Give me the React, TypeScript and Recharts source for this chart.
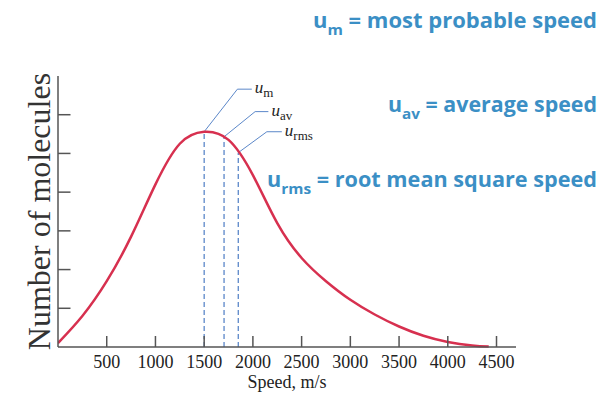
import { LineChart, Line, XAxis, YAxis, ReferenceLine, ReferenceDot } from "recharts";

// speed (m/s) vs relative number of molecules
const SPEEDS = [0, 250, 500, 750, 1000, 1250, 1500, 1750, 2000, 2250, 2500, 2750, 3000, 3250, 3500, 3750, 4000, 4250, 4420];
const MOLECULES = [0.1, 0.8, 1.7, 2.85, 4.2, 5.25, 5.56, 5.35, 4.44, 3.2, 2.3, 1.7, 1.22, 0.84, 0.53, 0.29, 0.13, 0.04, 0.01];

const X_TICKS = [500, 1000, 1500, 2000, 2500, 3000, 3500, 4000, 4500];
const Y_TICKS = [1, 2, 3, 4, 5, 6];

// characteristic speeds and where their callouts sit (data units)
const MARKERS = [
  { sub: "m", speed: 1500, height: 5.56, elbowSpeed: 1841, labelSpeed: 1989, labelHeight: 6.66 },
  { sub: "av", speed: 1704, height: 5.43, elbowSpeed: 2023, labelSpeed: 2159, labelHeight: 6.08 },
  { sub: "rms", speed: 1850, height: 5.02, elbowSpeed: 2143, labelSpeed: 2297, labelHeight: 5.56 },
];

const DEFINITIONS = [
  { sub: "m", text: " = most probable speed" },
  { sub: "av", text: " = average speed" },
  { sub: "rms", text: " = root mean square speed" },
];

const W = 605;
const H = 396;
const RED = "#d7304f";
const BLUE = "#3b8fc5";
const GUIDE = "#5b87c9";
const AXIS = "#555";
const SERIF = "'Liberation Serif', 'Times New Roman', serif";

const DEF_LAYOUT = [
  { x: 313, y: 28, len: 284 },
  { x: 388, y: 112, len: 209 },
  { x: 267, y: 187, len: 330 },
];

const data = SPEEDS.map((s, i) => ({ speed: s, count: MOLECULES[i] }));

function YLabel(props: any) {
  const vb = props.viewBox;
  return (
    <text
      transform={`translate(${vb.x + vb.width - 19}, ${vb.y + vb.height / 2}) rotate(-90)`}
      y={11}
      textAnchor="middle"
      fontFamily={SERIF}
      fontSize={32}
      fill="#333"
    >
      Number of molecules
    </text>
  );
}

export default function App() {
  return (
    <div style={{ position: "absolute", left: 0, top: 0, width: W, height: H, background: "#fff" }}>
      <LineChart width={W} height={H} data={data} margin={{ top: 76, right: 89, left: 0, bottom: 0 }}>
        <XAxis
          dataKey="speed"
          type="number"
          domain={[0, 4700]}
          ticks={X_TICKS}
          allowDataOverflow
          height={49}
          tickSize={-11}
          tickMargin={19}
          axisLine={{ stroke: AXIS, strokeWidth: 1.5 }}
          tickLine={{ stroke: AXIS, strokeWidth: 1.5 }}
          tick={{ fontFamily: SERIF, fontSize: 18, fill: "#222" }}
          label={{ value: "Speed, m/s", position: "insideBottom", offset: 8, fontFamily: SERIF, fontSize: 18, fill: "#222" }}
        />
        <YAxis
          type="number"
          domain={[0, 7]}
          ticks={Y_TICKS}
          width={58}
          tickSize={-12.5}
          tick={() => <g />}
          axisLine={{ stroke: AXIS, strokeWidth: 1.5 }}
          tickLine={{ stroke: AXIS, strokeWidth: 1.5 }}
          label={{ content: YLabel }}
        />
        {MARKERS.map((m) => (
          <ReferenceLine
            key={"v" + m.sub}
            segment={[{ x: m.speed, y: 0 }, { x: m.speed, y: m.height }]}
            stroke={GUIDE}
            strokeWidth={1.3}
            strokeDasharray="5 3"
          />
        ))}
        {MARKERS.map((m) => (
          <ReferenceLine
            key={"d" + m.sub}
            segment={[{ x: m.speed, y: m.height }, { x: m.elbowSpeed, y: m.labelHeight }]}
            stroke={GUIDE}
            strokeWidth={1}
          />
        ))}
        {MARKERS.map((m) => (
          <ReferenceLine
            key={"h" + m.sub}
            segment={[{ x: m.elbowSpeed, y: m.labelHeight }, { x: m.labelSpeed, y: m.labelHeight }]}
            stroke={GUIDE}
            strokeWidth={1}
          />
        ))}
        <Line
          type="natural"
          dataKey="count"
          stroke={RED}
          strokeWidth={2.5}
          dot={false}
          isAnimationActive={false}
        />
        {MARKERS.map((m) => (
          <ReferenceDot
            key={"l" + m.sub}
            x={m.labelSpeed}
            y={m.labelHeight}
            r={1}
            shape={(p: any) => (
              <text x={p.cx + 3} y={p.cy + 4} fontFamily={SERIF} fontSize={17} fill="#222">
                <tspan fontStyle="italic">u</tspan>
                <tspan fontSize={13} dy={4}>{m.sub}</tspan>
              </text>
            )}
          />
        ))}
      </LineChart>
      <svg width={W} height={H} style={{ position: "absolute", left: 0, top: 0, pointerEvents: "none" }}>
        {DEFINITIONS.map((d, i) => (
          <text
            key={d.sub}
            x={DEF_LAYOUT[i].x}
            y={DEF_LAYOUT[i].y}
            textLength={DEF_LAYOUT[i].len}
            lengthAdjust="spacingAndGlyphs"
            fontFamily="'Open Sans', sans-serif"
            fontWeight={700}
            fontSize={21}
            fill={BLUE}
          >
            u
            <tspan fontSize={15} dy={7}>{d.sub}</tspan>
            <tspan dy={-7}>{d.text}</tspan>
          </text>
        ))}
      </svg>
    </div>
  );
}
